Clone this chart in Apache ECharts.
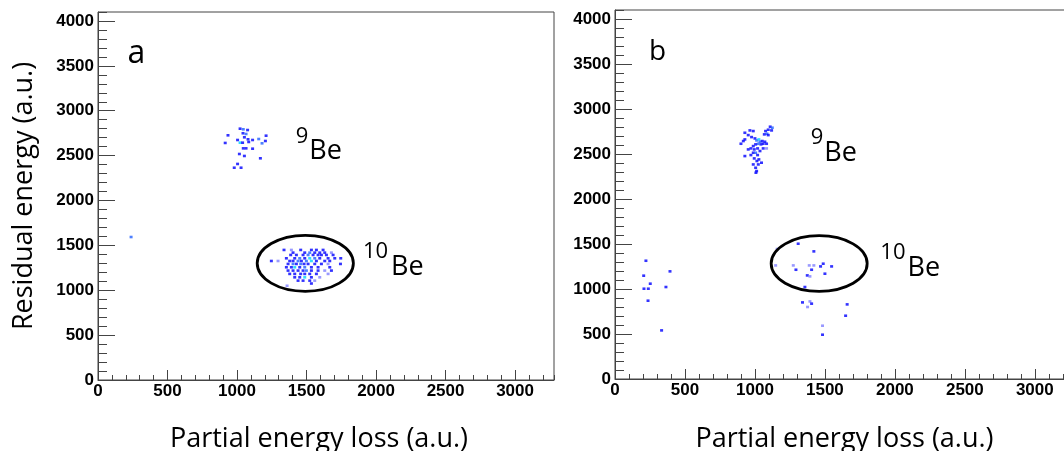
<!DOCTYPE html>
<html><head><meta charset="utf-8">
<script src="https://cdn.jsdelivr.net/npm/echarts@6/dist/echarts.min.js"></script>
<style>html,body{margin:0;padding:0;background:#fff}#c{width:1064px;height:451px}</style>
</head><body><div id="c"></div>
<script>
// ---- axis ranges / ticks ----
const X_MIN = 0, X_MAX = 3280;
const Y_MIN = 0, Y_MAX = 4100;
const MAJOR_STEP = 500, MINOR_STEP = 100;
const xTitle = 'Partial energy loss (a.u.)';
const yTitle = 'Residual energy (a.u.)';
const panelLetters = ['a', 'b'];

// ---- data: [energy loss, residual energy, count level] ----
const a_9Be = [[915,2641,1],[935,2726,1],[1022,2800,1],[1045,2793,2],[1076,2785,1],[1043,2749,1],[1065,2741,2],[1053,2704,1],[1079,2682,1],[1004,2674,1],[1022,2644,3],[1040,2644,1],[1084,2652,1],[1112,2674,1],[1156,2685,2],[1209,2722,1],[1204,2663,1],[1180,2637,2],[1045,2581,1],[1065,2581,1],[1112,2577,1],[1017,2518,1],[1053,2496,1],[1168,2470,1],[1004,2407,1],[980,2365,1],[1029,2365,1]];
const a_stray = [[238,1593,2]];
const a_10Be = [
 [1338,1449,1],[1391,1449,0],[1458,1449,1],[1535,1449,1],[1571,1449,1],[1619,1449,1],
 [1403,1419,1],[1487,1419,1],[1523,1419,2],[1559,1419,1],[1595,1419,1],[1631,1419,1],[1679,1419,0],
 [1386,1393,1],[1427,1393,1],[1475,1393,1],[1511,1393,2],[1547,1393,1],[1583,1393,1],[1607,1393,1],[1643,1393,1],[1691,1393,1],
 [1355,1356,1],[1415,1356,1],[1451,1356,2],[1487,1356,1],[1523,1356,3],[1559,1356,2],[1595,1356,1],[1655,1356,1],[1703,1356,1],[1746,1356,1],
 [1247,1326,1],[1295,1326,0],[1379,1326,1],[1403,1326,1],[1439,1326,2],[1463,1326,1],[1499,1326,2],[1535,1326,3],[1571,1326,1],[1631,1326,1],[1667,1326,1],
 [1367,1293,1],[1403,1293,2],[1427,1293,1],[1458,1293,2],[1482,1293,1],[1511,1293,1],[1559,1293,1],[1607,1293,1],[1655,1293,0],[1744,1293,1],
 [1355,1256,1],[1391,1256,1],[1415,1256,3],[1451,1256,1],[1487,1256,2],[1535,1256,1],[1583,1256,1],[1667,1256,1],
 [1367,1219,1],[1403,1219,1],[1439,1219,1],[1475,1219,1],[1499,1219,2],[1535,1219,1],[1583,1219,1],[1631,1219,0],[1679,1219,1],
 [1379,1182,1],[1415,1182,1],[1458,1182,1],[1487,1182,1],[1523,1182,1],[1571,1182,1],[1655,1182,0],
 [1415,1144,1],[1451,1144,1],[1487,1144,3],[1535,1144,1],[1595,1144,0],
 [1439,1107,1],[1475,1107,1],[1523,1107,1],[1559,1107,0],
 [1535,1075,1],[1360,1050,0]];
const b_9Be = [[1109,2803,1],[1124,2792,2],[1095,2770,1],[1119,2762,1],[1076,2755,1],[1086,2725,2],[1067,2718,1],[1095,2710,1],[964,2762,1],[988,2755,1],[928,2736,1],[952,2710,1],[917,2644,1],[900,2614,1],[928,2662,1],[976,2688,1],[1000,2673,1],[1012,2651,2],[1028,2662,3],[1036,2636,2],[1052,2644,1],[1071,2636,1],[1043,2607,1],[1059,2614,1],[1083,2614,1],[1024,2614,2],[1005,2607,1],[988,2588,1],[971,2562,1],[952,2551,1],[995,2551,1],[1019,2562,1],[1059,2562,1],[1083,2562,0],[1036,2533,1],[988,2514,1],[1005,2514,2],[928,2477,1],[971,2488,1],[1019,2488,1],[995,2451,1],[1028,2440,1],[1014,2422,1],[988,2384,1],[1024,2384,1],[1047,2403,1],[1005,2347,1],[1012,2310,1],[1007,2292,1]];
const b_low = [[221,1314,1],[393,1196,1],[205,1148,1],[252,1059,1],[207,1003,1],[238,1003,1],[364,1022,1],[236,870,1],[333,540,1]];
const b_10Be = [[1309,1503,1],[1159,1444,0],[1421,1418,1],[1148,1262,0],[1274,1262,0],[1293,1214,1],[1388,1262,0],[1421,1262,0],[1469,1251,1],[1488,1281,1],[1548,1251,1],[1405,1214,1],[1500,1170,1],[1374,1151,1],[1393,1140,0],[1357,1022,1],[1340,851,1],[1393,862,0],[1405,837,1],[1376,800,0],[1659,829,1],[1648,703,1],[1483,592,0],[1483,492,1]];
// ellipse gates: [centre x, centre y, radius x, radius y]
const a_gate = [1491, 1300, 346, 312];
const b_gate = [1459, 1283, 343, 309];

// ---- styles ----
const levelColors = ['#8080ff', '#0000ff', '#2060ff', '#00d0ff'];
const frameColor = '#444';
const labelStyle = {fontFamily: 'Liberation Sans', fontWeight: 'bold', fontSize: 17, color: '#000'};
const titleFont = {fontFamily: 'Open Sans', fontSize: 27, color: '#000'};

function pts(arr) {
  return arr.map(p => ({value: [p[0], p[1]], itemStyle: {color: levelColors[p[2]]}}));
}
const gA = {left: 98, top: 12, width: 456, height: 368};
const gB = {left: 615, top: 10, width: 459, height: 369};
const fmt = v => String(v);

function majorX(gi, nameGap, pad) {
  return {gridIndex: gi, type: 'value', min: X_MIN, max: X_MAX, interval: MAJOR_STEP,
    axisLine: {show: true, onZero: false, lineStyle: {color: frameColor, width: 1}},
    axisTick: {show: true, inside: true, length: 10, lineStyle: {color: frameColor}},
    splitLine: {show: false},
    axisLabel: Object.assign({margin: 3, showMaxLabel: false, formatter: fmt}, labelStyle),
    name: xTitle, nameLocation: 'middle', nameGap: nameGap,
    nameTextStyle: Object.assign({padding: pad}, titleFont)};
}
function minorX(gi) {
  return {gridIndex: gi, type: 'value', min: X_MIN, max: X_MAX, interval: MINOR_STEP,
    axisLine: {show: false}, axisTick: {show: true, inside: true, length: 5, lineStyle: {color: frameColor}},
    splitLine: {show: false}, axisLabel: {show: false}};
}
function majorY(gi, withName) {
  const ax = {gridIndex: gi, type: 'value', min: Y_MIN, max: Y_MAX, interval: MAJOR_STEP,
    axisLine: {show: true, onZero: false, lineStyle: {color: frameColor, width: 1}},
    axisTick: {show: true, inside: true, length: 17, lineStyle: {color: frameColor}},
    splitLine: {show: false},
    axisLabel: Object.assign({margin: 4, showMaxLabel: false, formatter: fmt}, labelStyle)};
  if (withName) {
    ax.name = yTitle; ax.nameLocation = 'middle'; ax.nameGap = 60;
    ax.nameTextStyle = titleFont;
  }
  return ax;
}
function minorY(gi) {
  return {gridIndex: gi, type: 'value', min: Y_MIN, max: Y_MAX, interval: MINOR_STEP,
    axisLine: {show: false}, axisTick: {show: true, inside: true, length: 9, lineStyle: {color: frameColor}},
    splitLine: {show: false}, axisLabel: {show: false}};
}
function gateSeries(ax, gate) {
  return {type: 'custom', xAxisIndex: ax, yAxisIndex: ax, data: [gate], encode: {x: 0, y: 1},
    silent: true, z: 5,
    renderItem: (params, api) => {
      const c = api.coord([api.value(0), api.value(1)]);
      const s = api.size([api.value(2), api.value(3)]);
      return {type: 'ellipse', shape: {cx: c[0], cy: c[1], rx: s[0], ry: s[1]},
        style: {fill: 'transparent', stroke: '#000', lineWidth: 2.8}};
    }};
}
function scatter(ax, arr) {
  return {type: 'scatter', xAxisIndex: ax, yAxisIndex: ax, symbol: 'rect', symbolSize: [3, 2.6],
    data: pts(arr), z: 3};
}
function txt(x, y, s, size) {
  return {type: 'text', x: x, y: y, z: 100,
    style: {text: s, fontFamily: 'Open Sans', fontSize: size, fill: '#000', align: 'left', verticalAlign: 'middle'}};
}
const gridBase = {outerBoundsMode: 'none', containLabel: false};

const chart = echarts.init(document.getElementById('c'), null, {renderer: 'canvas'});
chart.setOption({
  animation: false,
  backgroundColor: '#fff',
  grid: [
    Object.assign({show: true, borderColor: frameColor, borderWidth: 1, backgroundColor: 'transparent'}, gridBase, gA),
    Object.assign({show: true, borderColor: frameColor, borderWidth: 1, backgroundColor: 'transparent'}, gridBase, gB),
    Object.assign({show: false}, gridBase, gA),
    Object.assign({show: false}, gridBase, gB)
  ],
  xAxis: [majorX(0, 46, [0, 14, 0, 0]), majorX(1, 47, [0, 0, 0, 0]), minorX(2), minorX(3)],
  yAxis: [majorY(0, true), majorY(1, false), minorY(2), minorY(3)],
  series: [
    scatter(0, a_9Be.concat(a_stray, a_10Be)),
    scatter(1, b_9Be.concat(b_low, b_10Be)),
    gateSeries(0, a_gate),
    gateSeries(1, b_gate)
  ],
  graphic: [
    txt(127.5, 54, panelLetters[0], 32),
    txt(649, 52, panelLetters[1], 28),
    txt(295.7, 137, '9', 22), txt(309.3, 151.6, 'Be', 27),
    txt(363, 251.7, '10', 22), txt(391, 267.3, 'Be', 27),
    txt(810.7, 137.7, '9', 22), txt(824.3, 153, 'Be', 27),
    txt(880.3, 253, '10', 22), txt(907.6, 268.3, 'Be', 27)
  ]
});
</script></body></html>
